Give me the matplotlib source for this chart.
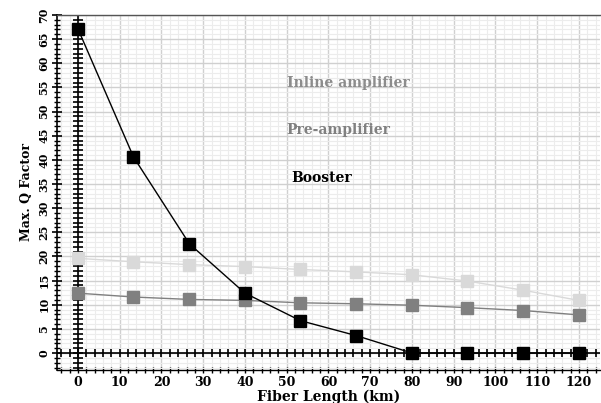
import matplotlib
matplotlib.use("Agg")
import matplotlib.pyplot as plt
import numpy as np
from matplotlib.ticker import MultipleLocator

fiber_km = [0, 13.3, 26.7, 40, 53.3, 66.7, 80, 93.3, 106.7, 120]
booster = [67.1, 40.6, 22.6, 12.4, 6.7, 3.6, 0, 0, 0, 0]
pre_amp = [12.4, 11.6, 11.1, 10.9, 10.4, 10.2, 9.9, 9.4, 8.8, 7.9]
inline_amp = [19.6, 18.9, 18.3, 17.9, 17.3, 16.8, 16.2, 14.9, 13.0, 10.9]

plt.rcParams["font.family"] = ["DejaVu Serif"]

fig = plt.figure(figsize=(6.01, 4.03), dpi=100)
ax = fig.add_axes([0.095, 0.082, 0.903, 0.881])
ax.set_xlim(-5, 125)
ax.set_ylim(-3.5, 70)

# grid
ax.xaxis.set_major_locator(MultipleLocator(10))
ax.xaxis.set_minor_locator(MultipleLocator(2))
ax.yaxis.set_major_locator(MultipleLocator(5))
ax.yaxis.set_minor_locator(MultipleLocator(1))
ax.grid(which="major", color="#d0d0d0", linewidth=1.0)
ax.grid(which="minor", color="#ececec", linewidth=0.8)
ax.set_axisbelow(True)

# spines
ax.spines["right"].set_visible(False)
ax.spines["top"].set_linestyle((0, (1.5, 1)))
ax.spines["top"].set_linewidth(1.0)
ax.spines["top"].set_color("#555555")
ax.spines["left"].set_linewidth(1.2)
ax.spines["bottom"].set_linewidth(1.0)

ax.tick_params(axis="y", which="major", direction="inout", length=7, width=1.2, labelsize=8, pad=2)
ax.tick_params(axis="y", which="minor", direction="inout", length=5, width=1.0)
ax.tick_params(axis="x", which="major", direction="inout", length=5, width=1.0, labelsize=9, pad=2)
ax.tick_params(axis="x", which="minor", direction="inout", length=4, width=1.0)
for lab in ax.get_yticklabels():
    lab.set_rotation(90)
    lab.set_va("center")
    lab.set_fontweight("bold")
for lab in ax.get_xticklabels():
    lab.set_fontweight("bold")

# axis lines through the origin with crossing ticks
ax.axhline(0, color="black", linewidth=1.2, zorder=2)
ax.axvline(0, color="black", linewidth=1.2, zorder=2)
xt = np.arange(-4, 125, 2)
ax.plot(xt, np.zeros_like(xt), linestyle="none", marker="|", markersize=6,
        markeredgewidth=1.2, color="black", zorder=2)
yt = np.arange(-3, 71, 1)
ax.plot(np.zeros_like(yt), yt, linestyle="none", marker="_", markersize=7,
        markeredgewidth=1.2, color="black", zorder=2)

ms = 9
ax.plot(fiber_km, inline_amp, color="#d9d9d9", marker="s", markersize=ms, linewidth=1.0, zorder=3)
ax.plot(fiber_km, pre_amp, color="#808080", marker="s", markersize=ms, linewidth=1.0, zorder=3)
ax.plot(fiber_km, booster, color="black", marker="s", markersize=ms, linewidth=1.0, zorder=4)

ax.text(50, 56, "Inline amplifier", color="#8c8c8c", fontsize=10, fontweight="bold", va="center")
ax.text(50, 46.2, "Pre-amplifier", color="#808080", fontsize=10, fontweight="bold", va="center")
ax.text(51, 36.2, "Booster", color="black", fontsize=10, fontweight="bold", va="center")

ax.set_xlabel("Fiber Length (km)", fontsize=10, fontweight="bold", labelpad=0)
ax.set_ylabel("Max. Q Factor", fontsize=9, fontweight="bold", labelpad=4)

fig.savefig("out.png", dpi=100)
